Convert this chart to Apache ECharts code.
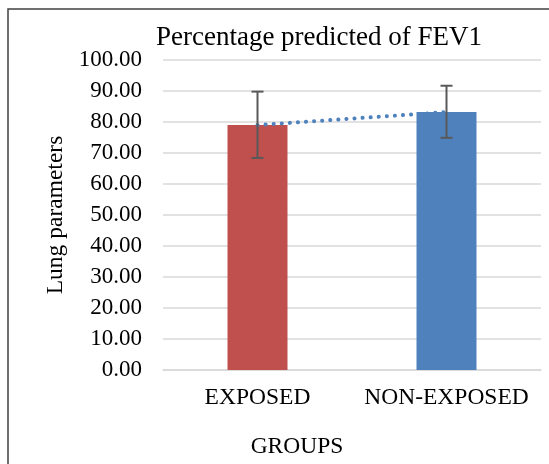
<!DOCTYPE html>
<html>
<head>
<meta charset="utf-8">
<script src="https://cdn.jsdelivr.net/npm/echarts@6/dist/echarts.min.js"></script>
<style>
html,body{margin:0;padding:0;background:#fff;}
#c{width:549px;height:464px;}
</style>
</head>
<body>
<div id="c"></div>
<script>
const categories = ['EXPOSED', 'NON-EXPOSED'];
const means = [79.0, 83.2];
const errLow = [68.4, 74.9];
const errHigh = [89.8, 91.7];
const yTicks = [0, 10, 20, 30, 40, 50, 60, 70, 80, 90, 100];
const barColors = ['#C0504D', '#4F81BD'];

const font = 'Liberation Serif, Times New Roman, serif';
const chart = echarts.init(document.getElementById('c'));
chart.setOption({
  animation: false,
  backgroundColor: '#fff',
  title: [{
    text: 'Percentage predicted of FEV1',
    left: 314, top: 19, textAlign: 'center',
    textStyle: {fontFamily: font, fontSize: 27, fontWeight: 'normal', color: '#000'}
  }, {
    text: 'GROUPS',
    left: 292, top: 430, textAlign: 'center',
    textStyle: {fontFamily: font, fontSize: 23.5, fontWeight: 'normal', color: '#000'}
  }],
  grid: {left: 163, right: 8, top: 60, bottom: 94},
  xAxis: {
    type: 'category', data: categories,
    axisLine: {show: true, lineStyle: {color: '#d9d9d9', width: 1.5}},
    axisTick: {show: false},
    axisLabel: {fontFamily: font, fontSize: 23.5, color: '#000', margin: 16, interval: 0, hideOverlap: false}
  },
  yAxis: {
    type: 'value', min: yTicks[0], max: yTicks[yTicks.length - 1], interval: 10,
    name: 'Lung parameters', nameLocation: 'middle', nameGap: 93,
    nameTextStyle: {fontFamily: font, fontSize: 23.5, color: '#000'},
    axisLine: {show: false}, axisTick: {show: false},
    splitLine: {lineStyle: {color: '#d9d9d9', width: 1.5}},
    axisLabel: {fontFamily: font, fontSize: 23, color: '#000', margin: 21,
      formatter: v => v.toFixed(2)}
  },
  graphic: [{
    type: 'rect', shape: {x: 8, y: 9, width: 700, height: 700},
    style: {fill: 'none', stroke: '#404040', lineWidth: 1.5}, silent: true
  }],
  series: [{
    type: 'bar', barWidth: 60,
    data: means.map((v, i) => ({value: v, itemStyle: {color: barColors[i]}})),
    z: 2
  }, {
    type: 'line', data: means, symbol: 'none', z: 3,
    lineStyle: {color: '#4F81BD', width: 4, type: [0.1, 8], cap: 'round'}
  }, {
    type: 'custom', z: 4,
    data: categories.map((c, i) => [i, errLow[i], errHigh[i]]),
    renderItem: (params, api) => {
      const lo = api.coord([api.value(0), api.value(1)]);
      const hi = api.coord([api.value(0), api.value(2)]);
      const w = 6;
      const st = {stroke: '#595959', lineWidth: 2, fill: 'none'};
      return {type: 'group', children: [
        {type: 'line', shape: {x1: hi[0], y1: hi[1], x2: lo[0], y2: lo[1]}, style: st},
        {type: 'line', shape: {x1: hi[0] - w, y1: hi[1], x2: hi[0] + w, y2: hi[1]}, style: st},
        {type: 'line', shape: {x1: lo[0] - w, y1: lo[1], x2: lo[0] + w, y2: lo[1]}, style: st}
      ]};
    }
  }]
});
</script>
</body>
</html>
